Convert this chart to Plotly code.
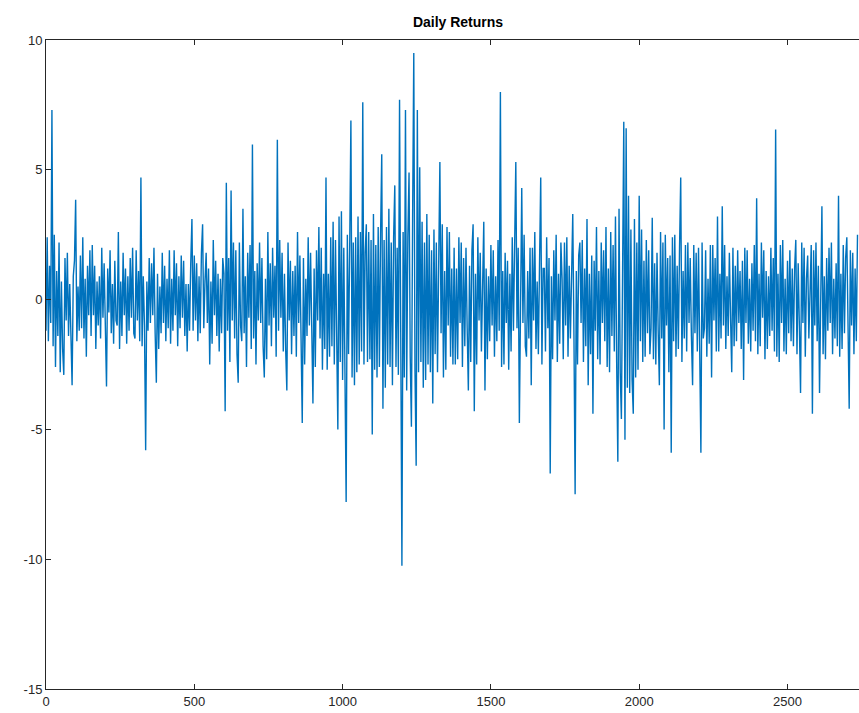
import plotly.graph_objects as go

step = 4
returns = [
    -1.2, 2.4, -1.6, 1.3, -0.9, 7.3, -1.8, 2.5, -2.6, 1.1, -1.4, 2.2, -2.8, 0.7, -1.9,
    -2.9, 1.6, -0.8, 1.8, -1.4, 0.6, -2.0, -3.3, 0.9, 1.5, 3.85, -1.6, 0.5, -1.2, 1.7,
    -1.1, 2.4, -1.5, 0.8, -2.2, 1.3, -0.6, 1.9, -1.4, 2.1, -0.6, 1.3, -1.9, 0.7, -1.0,
    0.9, -1.5, 2.0, -0.7, 1.4, -1.1, -3.35, 1.2, -0.5, 1.9, -1.3, 0.6, -1.7, 1.5, -0.8,
    -1.0, 2.6, -1.9, 0.7, -1.4, 1.8, -0.6, 1.2, -1.7, 0.9, -1.2, 1.6, -0.7, 2.0, -1.3,
    -1.5, 1.9, -0.8, 1.1, -1.6, 4.7, -1.8, 0.9, -1.0, -5.8, 0.7, -1.2, 1.6, -0.9, 1.4,
    -0.6, 2.0, -1.3, -3.2, 1.0, -1.9, 0.5, -1.3, 1.8, -0.9, 1.3, -1.6, 0.8, -1.1, 1.9,
    -1.7, 0.8, -1.2, 1.9, -0.6, 1.4, -1.8, 0.9, -1.1, 1.7, -0.7, 1.5, -1.4, 0.6, -2.0,
    0.6, -1.2, 1.4, 3.1, -1.2, 1.7, -0.8, 1.4, -1.6, 0.9, -1.3, 1.8, 2.9, -1.1, 0.7,
    1.8, -0.9, 1.2, -2.5, 0.7, -1.7, 2.3, -0.6, 1.5, -1.4, 1.0, -2.0, 0.8, -1.3, 1.6,
    1.0, -4.3, 4.5, -1.2, 1.6, -2.4, 4.2, -0.8, 2.2, -1.5, 1.9, -2.1, -3.2, 2.2, -1.0,
    -1.6, 3.5, -1.3, 0.9, -2.6, 1.8, -0.7, 2.1, -1.9, 5.97, -1.5, 1.1, -2.5, 1.4, -0.8,
    2.2, -0.9, 1.6, -1.8, -3.0, 0.8, -2.3, 2.6, -1.0, 1.4, -1.8, 2.0, -0.7, 1.3, -2.2,
    6.16, -1.2, 2.3, -0.7, 1.8, -2.0, 1.0, -1.9, -3.5, 2.2, -0.8, 1.5, -2.1, 1.1, -1.4,
    1.3, -2.2, 2.6, -0.9, 1.7, -1.5, -4.75, 1.6, -2.5, 0.8, -1.4, 2.4, -1.0, 1.8, -2.3,
    -4.0, 1.2, -2.6, 1.9, -0.8, 2.8, -1.5, 2.0, -2.7, 1.0, -1.9, 4.7, -2.7, 1.0, -2.2,
    2.4, -1.8, 3.0, -2.5, 2.3, -2.2, -5.0, 3.2, -2.4, 3.4, -3.1, 2.0, -2.6, -7.8, 2.5,
    -2.1, 2.1, 6.9, -3.0, 2.2, -3.3, 2.4, -2.8, 3.2, -2.5, 2.6, -2.0, 7.6, -2.5, 1.8,
    2.9, -2.4, 2.6, -2.3, 2.3, -5.2, 3.3, -2.7, 2.1, -3.0, 2.8, -2.6, 2.5, 5.6, -4.2,
    2.3, -3.4, 2.8, -2.5, 3.5, -2.6, 2.2, -3.3, 2.4, 4.4, -2.6, 2.0, -2.9, 7.7, -2.4,
    -10.25, 2.6, -3.0, 7.3, -3.5, 2.4, 4.9, -2.2, -4.9, 3.1, 9.5, -2.7, -6.4, 7.3, -2.8,
    5.1, -2.4, 3.0, -3.4, 2.2, -3.1, 3.3, -2.5, 2.5, -2.8, 1.9, -4.0, 2.7, -2.1, 2.2,
    -2.8, 1.4, 5.3, -1.3, 2.9, -3.0, 1.1, -2.7, 2.8, -1.0, 2.6, -2.2, 1.2, -2.5, 2.0,
    -2.5, 1.2, -2.3, 2.4, -0.9, 2.2, -2.6, 1.6, -1.8, 2.0, -1.1, -3.5, 1.3, -2.4, 1.9,
    2.9, -4.3, 1.0, -2.5, 2.4, -0.8, 1.8, -2.0, 1.2, 3.0, -3.5, 1.2, -2.3, 0.9, -1.6,
    2.1, -1.0, 1.9, -2.2, 0.9, -1.6, 2.3, -1.2, 8.0, -2.6, 1.1, -2.5, 1.8, -0.9, 1.5,
    -2.7, 1.0, -2.0, 2.4, -1.2, 1.6, 5.3, -1.1, 2.0, -4.75, 1.4, 4.3, -0.9, 2.5, -1.8,
    -2.2, 1.1, -1.5, 2.0, -3.3, 2.0, -0.8, 2.6, -1.9, 0.7, -2.1, 1.4, 4.7, -2.5, 1.2,
    1.2, -2.0, 2.4, -1.1, 1.6, -6.7, 0.9, -2.3, 1.9, -0.8, 2.5, -2.4, 1.0, -1.7, 2.2,
    0.8, -2.3, 2.2, -1.0, 2.4, -2.2, 1.3, -1.5, 2.0, 3.3, -1.4, -7.5, 1.1, -2.5, 1.7,
    2.2, -0.9, 2.3, -2.4, 1.2, -1.8, 3.1, -3.3, 1.0, -2.1, 1.7, -4.4, 1.5, -1.2, 2.8,
    -2.3, 1.1, -2.5, 2.2, -0.9, 1.9, -1.6, 2.8, -2.6, 1.2, -2.8, 2.6, -1.4, 2.1, -2.0,
    3.2, -2.4, -6.25, 3.5, -2.8, -4.6, 3.0, 6.85, -5.4, 6.6, -3.4, 4.0, -3.6, 2.7, -3.1,
    -4.4, 3.1, -3.0, 2.2, -2.7, 4.0, -1.6, 2.7, -2.4, 1.5, -2.2, 2.3, -1.3, 1.9, -2.1,
    -1.1, 3.15, -2.3, 1.4, -2.5, 1.8, -1.2, -3.3, 2.6, -1.5, 2.2, -5.0, 2.5, -1.0, 1.6,
    -2.8, 1.7, -5.9, 2.4, -1.6, 2.5, -2.2, 1.3, -1.9, 2.0, 4.7, -2.4, 1.1, -1.5, 2.1,
    -2.0, 2.2, -0.9, 1.6, -1.4, -3.3, 2.1, -1.3, 1.8, -2.0, 2.0, -1.1, -5.9, 2.2, -1.5,
    -1.1, 1.9, -2.2, 0.8, -1.7, 2.1, -3.0, 2.1, -0.8, 1.6, -2.0, 3.2, -2.0, 1.0, -1.5,
    3.6, -1.0, 2.1, -1.9, 0.9, -1.4, 1.8, -0.7, -2.8, 2.0, -1.8, 1.3, -1.6, 1.9, -0.9,
    1.1, -1.9, 1.5, -3.1, 2.0, -0.9, 1.9, -1.7, 0.8, -2.0, 1.4, -1.2, 2.1, -1.6, 3.9,
    -2.1, 1.0, -1.8, 2.2, -0.7, 1.9, -2.3, 1.1, -1.9, 0.9, -1.4, 2.0, -1.2, 1.6, -2.0,
    6.55, -2.2, 1.0, -2.4, 2.1, -0.9, 2.3, -2.0, 0.8, -2.1, 1.5, -1.3, 1.9, -1.6, 1.2,
    -1.8, 1.2, 2.3, -2.1, 1.4, -1.0, -3.6, 2.2, -0.9, 2.0, -2.2, 0.8, 1.7, -1.5, 1.1,
    2.1, -4.4, 1.9, -1.0, 2.2, -1.6, 1.3, -3.6, 1.5, 3.6, -2.1, 0.9, -2.3, 1.6, -1.2,
    2.0, -0.9, 2.2, -2.1, 0.8, -1.5, 1.4, -1.8, 4.0, -2.2, 1.0, -1.9, 2.1, -1.3, 1.6,
    2.4, -1.3, -4.2, 1.9, -1.0, 1.8, -2.1, 1.2, -1.6, 2.5,
]
days = [i * step for i in range(len(returns))]

x_ticks = [0, 500, 1000, 1500, 2000, 2500]
y_ticks = [-15, -10, -5, 0, 5, 10]
y_tick_text = ["-15", "-10", "-5", "0", "5", "10"]

fig = go.Figure()
fig.add_trace(go.Scatter(x=days, y=returns, mode="lines",
                         line=dict(color="#0072BD", width=1.4),
                         showlegend=False, hoverinfo="skip"))

axis_common = dict(showgrid=False, zeroline=False, showline=True,
                   linecolor="#262626", linewidth=1,
                   ticks="inside", ticklen=5, tickcolor="#262626",
                   tickfont=dict(family="Liberation Sans, Arial", size=13, color="#262626"))

fig.update_layout(
    width=859, height=713,
    margin=dict(l=46, r=0, t=40, b=24),
    paper_bgcolor="white", plot_bgcolor="white",
    title=dict(text="<b>Daily Returns</b>", x=458/859, xanchor="center",
               y=1 - 22/713, yanchor="middle",
               font=dict(family="Liberation Sans, Arial", size=14, color="#000000")),
    xaxis=dict(range=[0, 813/0.2966], tickvals=x_ticks, mirror="ticks", **axis_common),
    yaxis=dict(range=[-15, 10], tickvals=y_ticks, ticktext=y_tick_text, mirror=False, **axis_common),
)

fig.write_html("out.html")
